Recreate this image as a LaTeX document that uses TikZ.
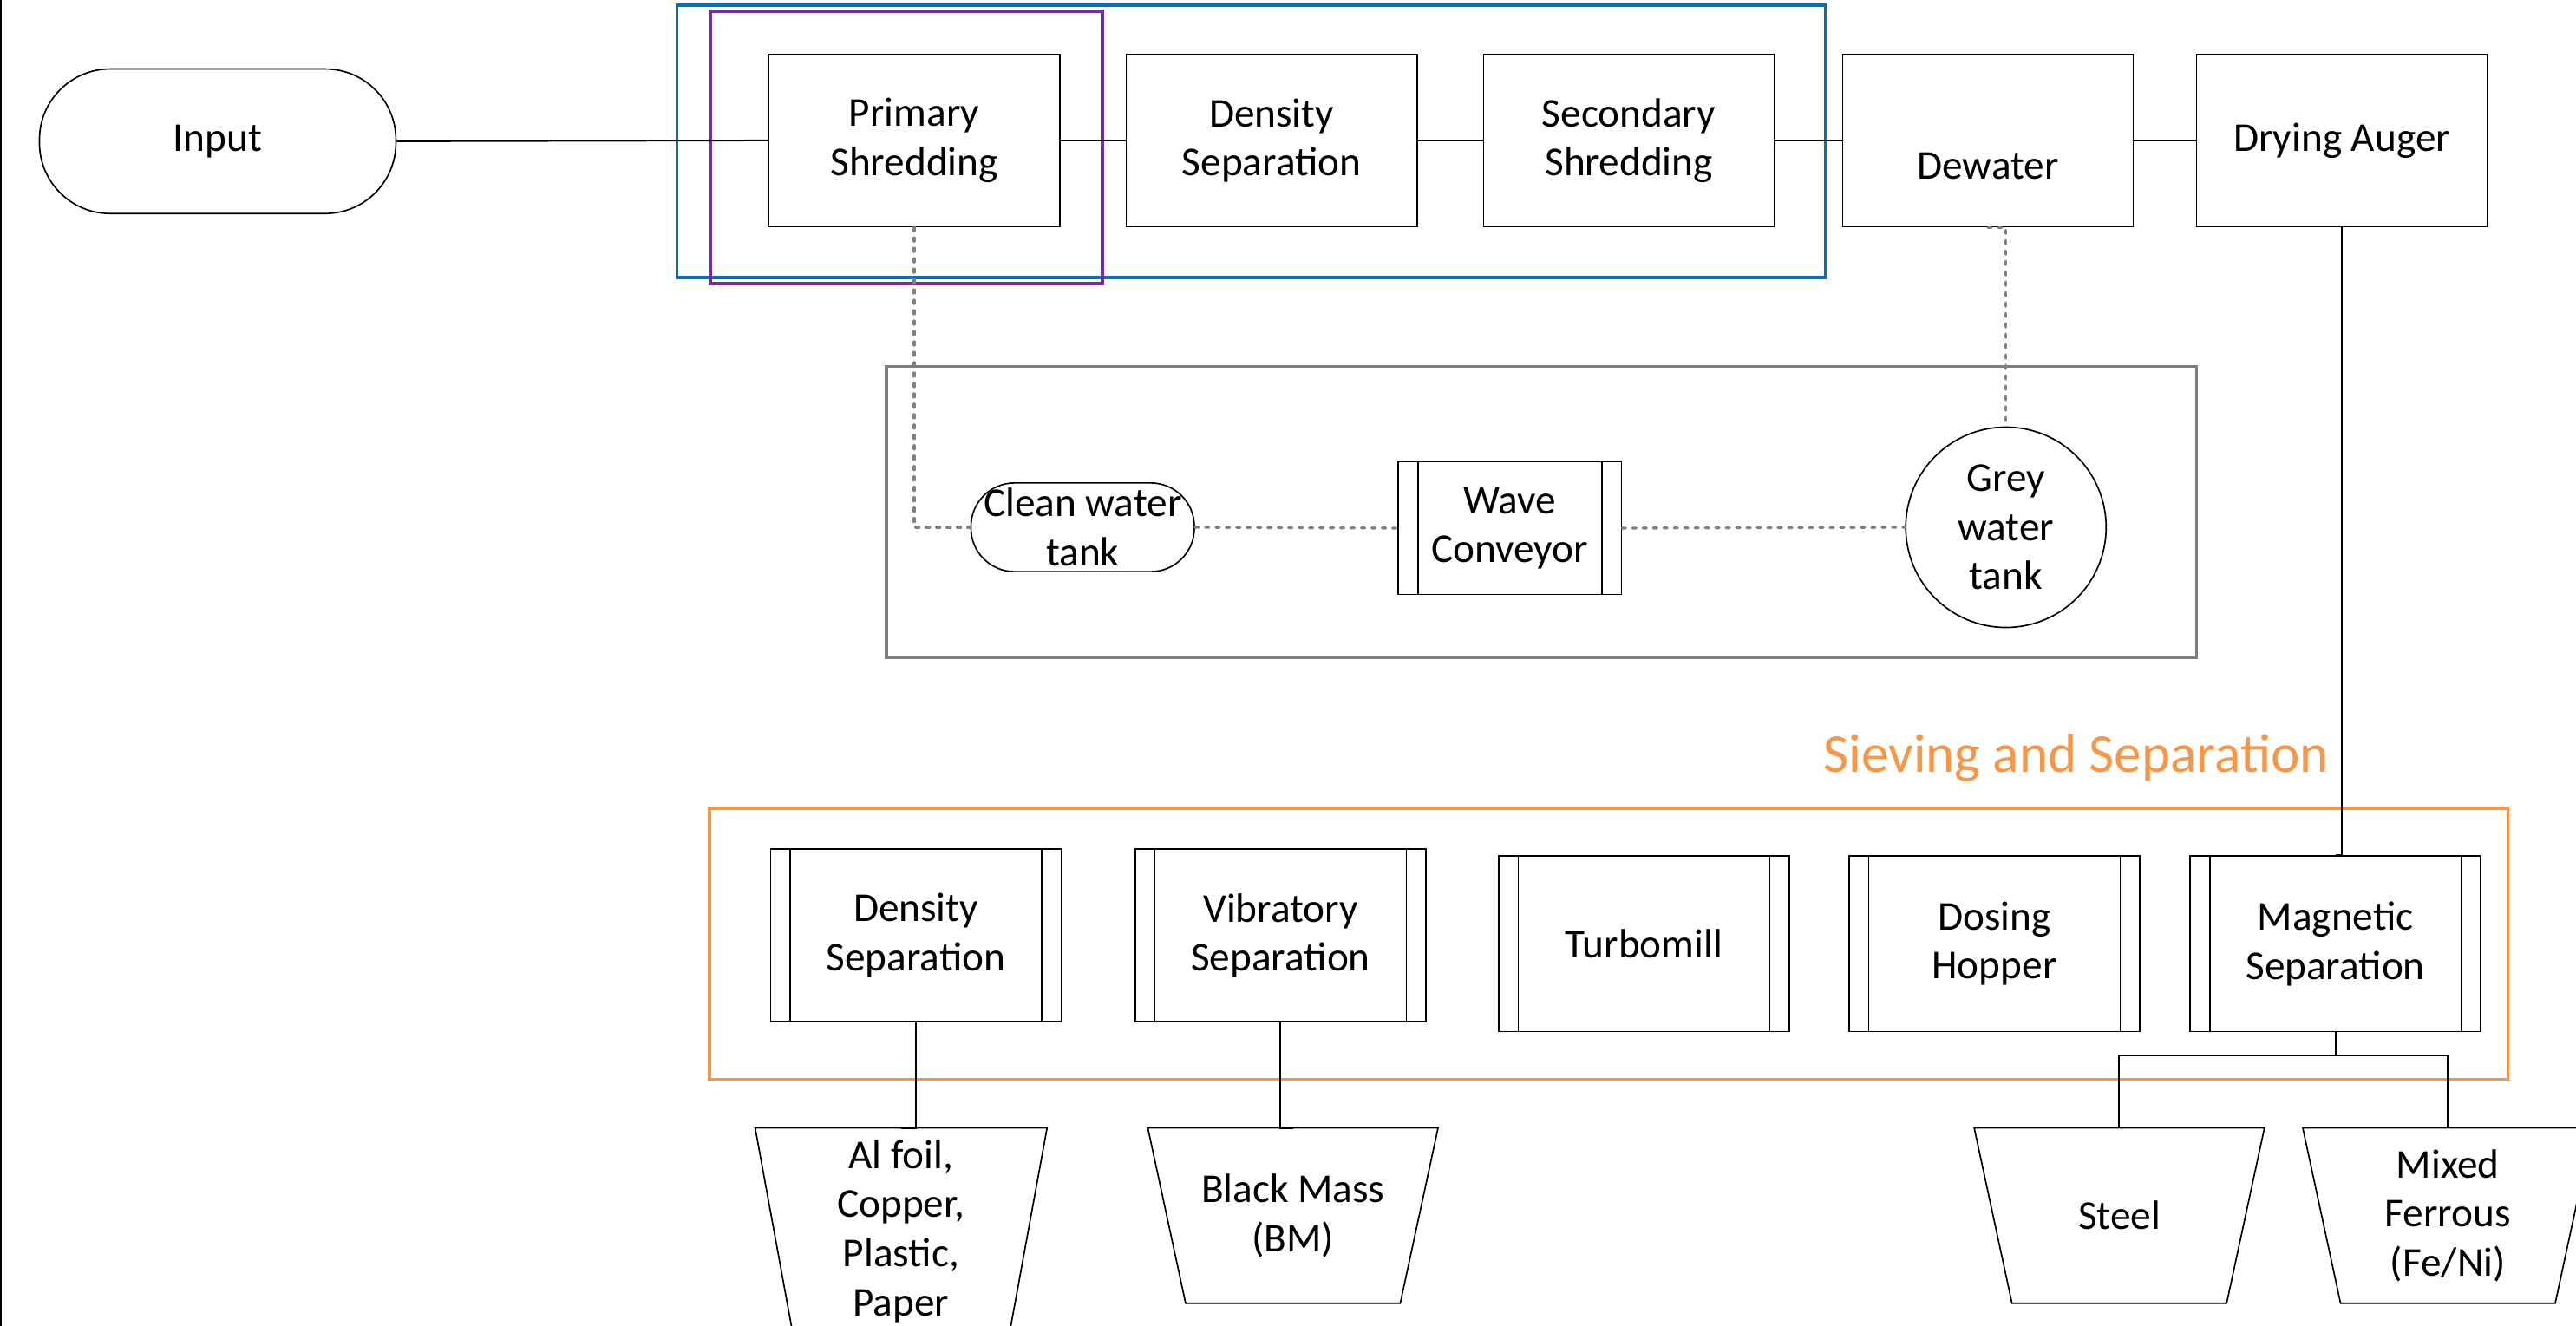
\documentclass[tikz,border=0pt]{standalone}
\usepackage{fontspec}
\setmainfont{Carlito}
\definecolor{blueC}{HTML}{0070C0}
\definecolor{purpleC}{HTML}{7030A0}
\definecolor{grayC}{HTML}{7F7F7F}
\definecolor{orangeC}{HTML}{F79646}
\definecolor{waterC}{HTML}{808080}
\begin{document}
\begin{tikzpicture}[x=0.02cm, y=-0.02cm,
  every node/.style={font=\fontsize{14.2pt}{17pt}\selectfont, align=center, inner sep=0pt},
  conn/.style={line width=0.6pt, black},
  proc/.style={draw, line width=0.5pt, minimum width=3.54cm, minimum height=2.1cm},
  predef/.style={proc, path picture={
     \draw[line width=0.5pt] ([xshift=0.24cm]path picture bounding box.south west) -- ([xshift=0.24cm]path picture bounding box.north west);
     \draw[line width=0.5pt] ([xshift=-0.24cm]path picture bounding box.south east) -- ([xshift=-0.24cm]path picture bounding box.north east);}},
  outbox/.style={minimum width=3.52cm, minimum height=2.12cm},
  water/.style={draw=waterC, line width=1pt, dash pattern=on 1.2pt off 2.4pt, line cap=round},
  grp/.style={line width=1.1pt}
]
\useasboundingbox (0,0) rectangle (1568,807);
\clip (0,0) rectangle (1568,807);

% left page border
\draw[conn] (0.6,0) -- (0.6,807);

% group frames
\draw[grp, draw=blueC] (412,3) rectangle (1111,169);
\draw[grp, draw=purpleC] (432.5,6.7) rectangle (671,172.5);
\draw[grp, draw=grayC] (539.5,223) rectangle (1337,400.5);
\draw[grp, draw=orangeC] (432,492) rectangle (1526.6,657);
\node[font=\fontsize{19pt}{23pt}\selectfont, text=orangeC, anchor=base east] (title) at (1418,470) {Sieving and Separation};

% top row
\node[draw, line width=0.5pt, rounded corners=0.86cm, minimum width=4.34cm, minimum height=1.76cm] (input) at (132.5,86) {Input};
\node[proc] (prim) at (556.5,85.5) {Primary\\Shredding};
\node[proc] (dens) at (774,85.5) {Density\\Separation};
\node[proc] (sec) at (991.5,85.5) {Secondary\\Shredding};
\node[proc] (dew) at (1210,85.5) {\raisebox{-13.4pt}[0pt][0pt]{Dewater}};
\node[proc] (dry) at (1425.5,85.5) {Drying Auger};

% water loop
\node[draw, line width=0.5pt, rounded corners=0.53cm, minimum width=2.72cm, minimum height=1.08cm, inner ysep=-2pt] (clean) at (659,321) {Clean water\\tank};
\node[predef, minimum width=2.72cm, minimum height=1.62cm] (wave) at (919,321.5) {Wave\\Conveyor};
\node[draw, circle, line width=0.5pt, minimum size=2.44cm] (grey) at (1221,321) {Grey\\water\\tank};

% sieving row
\node[predef] (dsep) at (557.5,569.5) {Density\\Separation};
\node[predef] (vib) at (779.5,569.5) {Vibratory\\Separation};
\node[predef, minimum height=2.14cm] (turbo) at (1000.7,574.5) {Turbomill};
\node[predef, minimum height=2.14cm] (dose) at (1214,574.5) {Dosing\\Hopper};
\node[predef, minimum height=2.14cm] (mag) at (1421.5,574.5) {Magnetic\\Separation};

% outputs
\node[outbox, minimum width=3.54cm, minimum height=2.5cm] (al) at (548.5,749.5) {Al foil,\\Copper,\\Plastic,\\Paper};
\node[outbox] (bm) at (787,740) {Black Mass\\(BM)};
\node[outbox] (steel) at (1290,740) {Steel};
\node[outbox] (mix) at (1490,740) {Mixed\\Ferrous\\(Fe/Ni)};
\foreach \n in {al,bm,steel,mix}
  \draw[line width=0.5pt] (\n.north west) -- (\n.north east) -- ([xshift=-0.46cm]\n.south east) -- ([xshift=0.46cm]\n.south west) -- cycle;

% main flow
\draw[conn] (input.east) -- (prim.west);
\draw[conn] (prim.east) -- (dens.west);
\draw[conn] (dens.east) -- (sec.west);
\draw[conn] (sec.east) -- (dew.west);
\draw[conn] (dew.east) -- (dry.west);
\draw[conn] (dry.south) |- (mag.north);
\draw[conn] (dsep.south) |- (al.north);
\draw[conn] (vib.south) |- (bm.north);
\coordinate (split) at (1421.5,642.6);
\draw[conn] (mag.south) -- (split);
\draw[conn] (steel.north) |- (split) -| (mix.north);

% water connectors
\draw[water] (prim.south) |- (clean.west);
\draw[water] (clean.east) -- (wave.west);
\draw[water] (wave.east) -- (grey.west);
\draw[water] (dew.south) -| (grey.north);
\end{tikzpicture}
\end{document}
